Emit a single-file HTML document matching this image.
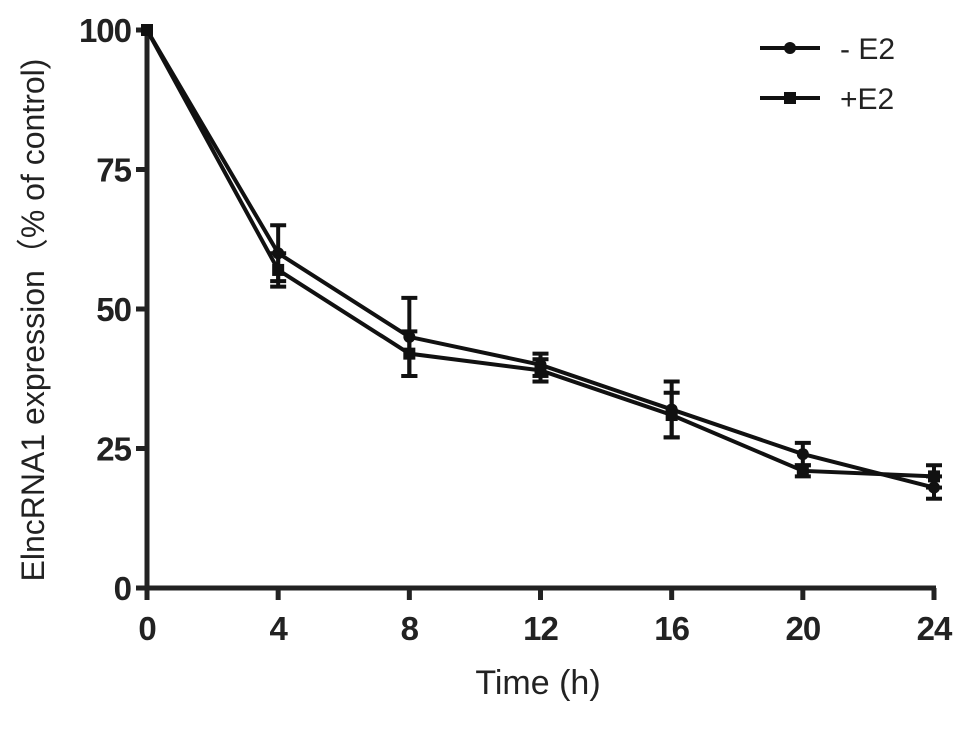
<!DOCTYPE html>
<html><head><meta charset="utf-8"><style>
body{margin:0;background:#fff}
svg{display:block;font-family:"Liberation Sans",Arial,sans-serif}
</style></head><body>
<svg id="c" width="969" height="729"></svg>
<script>
const times=[0,4,8,12,16,20,24];
const minusE2=[100,60,45,40,32,24,18];
const minusE2Err=[0,5,7,2,5,2,2];
const plusE2=[100,57,42,39,31,21,20];
const plusE2Err=[0,3,4,2,4,1,2];
const xTicks=[0,4,8,12,16,20,24];
const yTicks=[0,25,50,75,100];
const NS="http://www.w3.org/2000/svg";
const svg=document.getElementById('c');
const X=t=>147+t*(934-147)/24;
const Y=v=>588-v*(588-30)/100;
function el(tag,attrs,parent){const e=document.createElementNS(NS,tag);for(const k in attrs)e.setAttribute(k,attrs[k]);(parent||svg).appendChild(e);return e;}
const axes=el('g',{stroke:'#222','stroke-width':5,fill:'none'});


el('line',{x1:147,y1:28,x2:147,y2:590},axes);
el('line',{x1:145,y1:588,x2:936,y2:588},axes);
yTicks.forEach(v=>{
 el('line',{x1:136,y1:Y(v),x2:147,y2:Y(v),stroke:'#222','stroke-width':5});
 const t=el('text',{x:131,y:Y(v)+12,'text-anchor':'end','font-size':33,'font-weight':'bold',fill:'#222','letter-spacing':-1});
 t.textContent=v;
 
 
});
xTicks.forEach(v=>{
 el('line',{x1:X(v),y1:588,x2:X(v),y2:600,stroke:'#222','stroke-width':5});
 const t=el('text',{x:X(v),y:640,'text-anchor':'middle','font-size':33,'font-weight':'bold',fill:'#222','letter-spacing':-1});
 t.textContent=v;
 
 
});
const xt=el('text',{x:538,y:694,'text-anchor':'middle','font-size':34,fill:'#222'});
xt.textContent='Time (h)';


const yt=el('text',{x:0,y:0,'text-anchor':'middle','font-size':32,fill:'#222',transform:'translate(44,320) rotate(-90)'});
yt.textContent='ElncRNA1 expression（% of control)';


function series(vals,errs,name,sq){
 const g=el('g',{});
 
 
 el('polyline',{points:times.map((t,i)=>X(t)+','+Y(vals[i])).join(' '),fill:'none',stroke:'#111','stroke-width':4},g);
 times.forEach((t,i)=>{
  if(errs[i]>0){
   const top=Y(vals[i]+errs[i]),bot=Y(vals[i]-errs[i]);
   el('line',{x1:X(t),y1:top,x2:X(t),y2:bot,stroke:'#111','stroke-width':4},g);
   el('line',{x1:X(t)-8,y1:top,x2:X(t)+8,y2:top,stroke:'#111','stroke-width':4},g);
   el('line',{x1:X(t)-8,y1:bot,x2:X(t)+8,y2:bot,stroke:'#111','stroke-width':4},g);
  }
  if(sq)el('rect',{x:X(t)-6,y:Y(vals[i])-6,width:12,height:12,fill:'#111'},g);
  else el('circle',{cx:X(t),cy:Y(vals[i]),r:6,fill:'#111'},g);
 });
}
series(minusE2,minusE2Err,'series-minus-e2',false);
series(plusE2,plusE2Err,'series-plus-e2',true);
const lg=el('g',{});


el('line',{x1:760,y1:48,x2:820,y2:48,stroke:'#111','stroke-width':4},lg);
el('circle',{cx:790,cy:48,r:6,fill:'#111'},lg);
el('line',{x1:760,y1:98,x2:820,y2:98,stroke:'#111','stroke-width':4},lg);
el('rect',{x:784,y:92,width:12,height:12,fill:'#111'},lg);
const l1=el('text',{x:840,y:59,'font-size':30,fill:'#222'},lg);l1.textContent='- E2';
const l2=el('text',{x:840,y:109,'font-size':30,fill:'#222'},lg);l2.textContent='+E2';
</script>
</body></html>
